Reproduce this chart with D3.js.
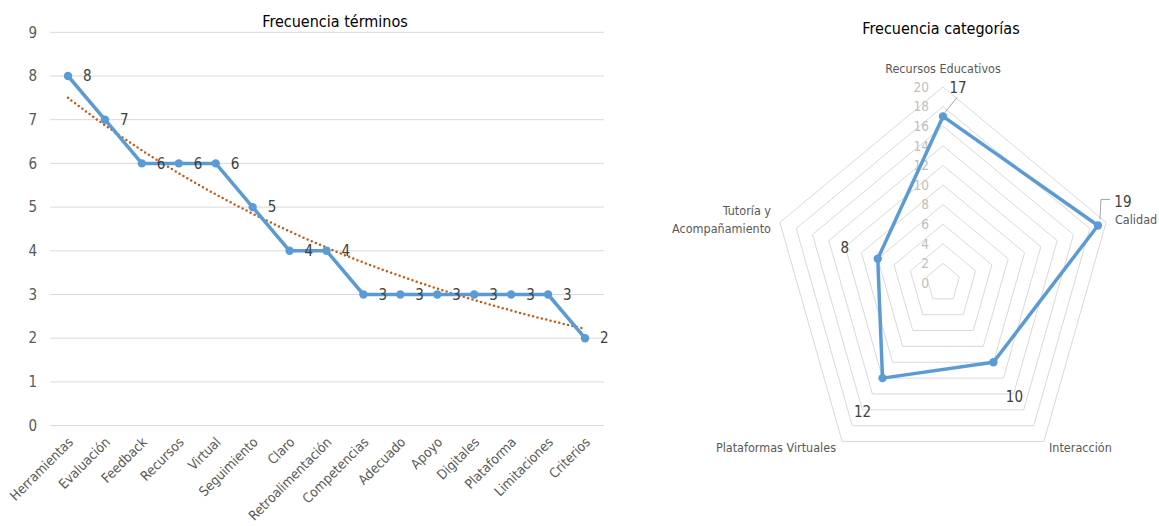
<!DOCTYPE html>
<html>
<head>
<meta charset="utf-8">
<script src="https://cdn.jsdelivr.net/npm/d3@7"></script>
<style>
	body { margin: 0; background: #fff; }
	text { font-family: 'Liberation Sans Narrow', 'DejaVu Sans Condensed', sans-serif; }
</style>
</head>
<body>
<svg id="svg"></svg>
<script>
	'use strict';
	// line chart data
	var terms = ['Herramientas', 'Evaluación', 'Feedback', 'Recursos', 'Virtual', 'Seguimiento', 'Claro',
		'Retroalimentación', 'Competencias', 'Adecuado', 'Apoyo', 'Digitales', 'Plataforma', 'Limitaciones', 'Criterios'];
	var termCounts = [8, 7, 6, 6, 6, 5, 4, 4, 3, 3, 3, 3, 3, 3, 2];
	var yTicks = [0, 1, 2, 3, 4, 5, 6, 7, 8, 9];

	// radar data
	var categories = ['Recursos Educativos', 'Calidad', 'Interacción', 'Plataformas Virtuales', 'Tutoría y\nAcompañamiento'];
	var categoryCounts = [17, 19, 10, 12, 8];
	var radarTicks = [0, 2, 4, 6, 8, 10, 12, 14, 16, 18, 20];

	var blue = '#5b9bd5', grid = '#d9d9d9', labelGrey = '#595959', dark = '#404040';

	var svg = d3.select('#svg')
		.attr('width', 1159)
		.attr('height', 526);

	/* ---------- left: line chart ---------- */
	var x = d3.scalePoint().domain(terms).range([68, 585]);
	var y = d3.scaleLinear().domain([0, 9]).range([425.6, 32.3]);

	var left = svg.append('g');

	left.append('text')
		.attr('x', 335).attr('y', 27)
		.attr('text-anchor', 'middle')
		.attr('font-size', 16)
		.attr('fill', '#000')
		.text('Frecuencia términos');

	left.selectAll('line.grid')
		.data(yTicks)
		.enter().append('line')
		.attr('class', 'grid')
		.attr('x1', 50).attr('x2', 604)
		.attr('y1', function (d) { return y(d); })
		.attr('y2', function (d) { return y(d); })
		.attr('stroke', grid)
		.attr('stroke-width', 1);

	left.selectAll('text.ytick')
		.data(yTicks)
		.enter().append('text')
		.attr('class', 'ytick')
		.attr('x', 37)
		.attr('y', function (d) { return y(d); })
		.attr('dy', '0.35em')
		.attr('text-anchor', 'end')
		.attr('font-size', 15)
		.attr('fill', labelGrey)
		.text(function (d) { return d; });

	left.selectAll('text.xtick')
		.data(terms)
		.enter().append('text')
		.attr('class', 'xtick')
		.attr('transform', function (d) {
			return 'translate(' + (x(d) + 6) + ',443) rotate(-45)';
		})
		.attr('text-anchor', 'end')
		.attr('font-size', 13.5)
		.attr('fill', labelGrey)
		.text(function (d) { return d; });

	// exponential trend line, fitted on ln(y) like the spreadsheet does
	var n = termCounts.length;
	var xs = d3.range(1, n + 1);
	var lnY = termCounts.map(function (v) { return Math.log(v); });
	var mx = d3.mean(xs), my = d3.mean(lnY);
	var sxy = d3.sum(xs, function (v, i) { return (v - mx) * (lnY[i] - my); });
	var sxx = d3.sum(xs, function (v) { return (v - mx) * (v - mx); });
	var slope = sxy / sxx;
	var icpt = my - slope * mx;
	var stepX = x.step();
	var trendPts = d3.range(1, n + 0.001, 0.25).map(function (t) {
		return [x(terms[0]) + (t - 1) * stepX, y(Math.exp(icpt + slope * t))];
	});

	left.append('path')
		.datum(trendPts)
		.attr('fill', 'none')
		.attr('stroke', '#c55a11')
		.attr('stroke-width', 2.5)
		.attr('stroke-linecap', 'round')
		.attr('stroke-dasharray', '0,4.5')
		.attr('d', d3.line().curve(d3.curveBasis));

	var line = d3.line()
		.x(function (d, i) { return x(terms[i]); })
		.y(function (d) { return y(d); });

	left.append('path')
		.datum(termCounts)
		.attr('fill', 'none')
		.attr('stroke', blue)
		.attr('stroke-width', 3.5)
		.attr('stroke-linejoin', 'round')
		.attr('d', line);

	left.selectAll('circle')
		.data(termCounts)
		.enter().append('circle')
		.attr('cx', function (d, i) { return x(terms[i]); })
		.attr('cy', function (d) { return y(d); })
		.attr('r', 4.2)
		.attr('fill', blue);

	left.selectAll('text.val')
		.data(termCounts)
		.enter().append('text')
		.attr('class', 'val')
		.attr('x', function (d, i) { return x(terms[i]) + 15; })
		.attr('y', function (d) { return y(d); })
		.attr('dy', '0.35em')
		.attr('font-size', 15)
		.attr('fill', dark)
		.text(function (d) { return d; });

	/* ---------- right: radar chart ---------- */
	var cx = 943, cy = 283;
	// the picture is squeezed horizontally, so radius differs on each axis
	var rY = d3.scaleLinear().domain([0, 20]).range([0, 196]);
	var rX = d3.scaleLinear().domain([0, 20]).range([0, 171.5]);
	var angle = d3.scaleLinear().domain([0, categories.length]).range([0, 2 * Math.PI]);

	function pt(v, i) {
		var a = angle(i);
		return [cx + rX(v) * Math.sin(a), cy - rY(v) * Math.cos(a)];
	}

	var radar = svg.append('g');

	radar.append('text')
		.attr('x', 941).attr('y', 34)
		.attr('text-anchor', 'middle')
		.attr('font-size', 16)
		.attr('fill', '#000')
		.text('Frecuencia categorías');

	radar.selectAll('path.ring')
		.data(radarTicks.slice(1))
		.enter().append('path')
		.attr('class', 'ring')
		.attr('fill', 'none')
		.attr('stroke', grid)
		.attr('stroke-width', 1)
		.attr('d', function (t) {
			return d3.line()(categories.map(function (c, i) { return pt(t, i); })) + 'Z';
		});

	radar.selectAll('text.rtick')
		.data(radarTicks)
		.enter().append('text')
		.attr('class', 'rtick')
		.attr('x', 929)
		.attr('y', function (t) { return cy - rY(t); })
		.attr('dy', '0.35em')
		.attr('text-anchor', 'end')
		.attr('font-size', 13.5)
		.attr('fill', '#bfbfbf')
		.text(function (t) { return t; });

	// category labels
	var catPos = [
		{x: 943, y: 73, anchor: 'middle'},
		{x: 1115, y: 224, anchor: 'start'},
		{x: 1049, y: 452, anchor: 'start'},
		{x: 836, y: 452, anchor: 'end'},
		{x: 771, y: 215, anchor: 'end'}
	];
	categories.forEach(function (c, i) {
		var t = radar.append('text')
			.attr('x', catPos[i].x).attr('y', catPos[i].y)
			.attr('text-anchor', catPos[i].anchor)
			.attr('font-size', 12.5)
			.attr('fill', labelGrey);
		c.split('\n').forEach(function (part, k) {
			t.append('tspan')
				.attr('x', catPos[i].x)
				.attr('dy', k === 0 ? 0 : 18)
				.text(part);
		});
	});

	radar.append('path')
		.datum(categoryCounts)
		.attr('fill', 'none')
		.attr('stroke', blue)
		.attr('stroke-width', 3.5)
		.attr('stroke-linejoin', 'round')
		.attr('d', function (d) {
			return d3.line()(d.map(pt)) + 'Z';
		});

	radar.selectAll('circle')
		.data(categoryCounts)
		.enter().append('circle')
		.attr('cx', function (d, i) { return pt(d, i)[0]; })
		.attr('cy', function (d, i) { return pt(d, i)[1]; })
		.attr('r', 4.2)
		.attr('fill', blue);

	// data labels, offsets from each point
	var valOffsets = [[15, -29], [25, -24], [21, 34], [-20, 34], [-33, -11]];
	radar.selectAll('text.val')
		.data(categoryCounts)
		.enter().append('text')
		.attr('class', 'val')
		.attr('x', function (d, i) { return pt(d, i)[0] + valOffsets[i][0]; })
		.attr('y', function (d, i) { return pt(d, i)[1] + valOffsets[i][1]; })
		.attr('dy', '0.35em')
		.attr('text-anchor', 'middle')
		.attr('font-size', 15)
		.attr('fill', dark)
		.text(function (d) { return d; });

	// leader lines for 17 and 19
	var p0 = pt(categoryCounts[0], 0), p1 = pt(categoryCounts[1], 1);
	radar.append('path')
		.attr('fill', 'none')
		.attr('stroke', '#a6a6a6')
		.attr('stroke-width', 1)
		.attr('d', d3.line()([[p0[0] + 2, p0[1] - 4], [p0[0] + 14, p0[1] - 19]]));
	radar.append('path')
		.attr('fill', 'none')
		.attr('stroke', '#a6a6a6')
		.attr('stroke-width', 1)
		.attr('d', d3.line()([[p1[0] + 12, p1[1] - 26], [p1[0] + 3, p1[1] - 26], [p1[0] + 2, p1[1] - 6]]));
</script>
</body>
</html>
